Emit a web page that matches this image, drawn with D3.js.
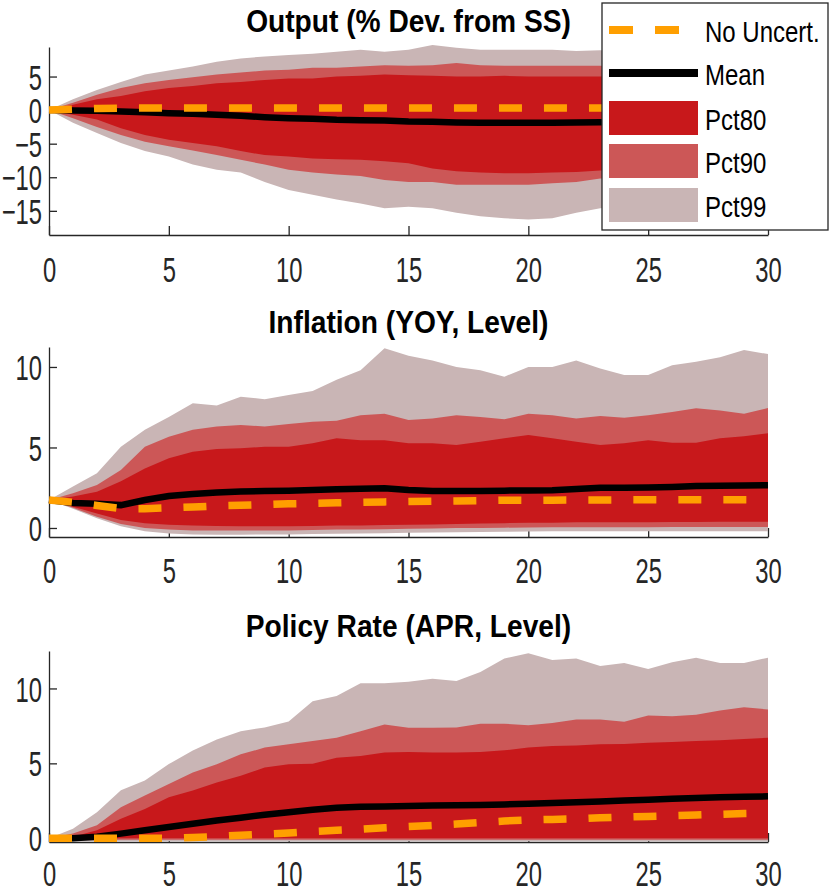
<!DOCTYPE html>
<html>
<head>
<meta charset="utf-8">
<script src="https://cdn.jsdelivr.net/npm/d3@7"></script>
<style>
  body { margin: 0; background: #fff; }
  svg { display: block; }
</style>
</head>
<body>
<svg id="fig" width="830" height="891"></svg>
<script>
// horizons 0..30 and axis ticks
var horizon = d3.range(0, 31);
var xTicks = [0, 5, 10, 15, 20, 25, 30];
var outputTicks = [-15, -10, -5, 0, 5];
var inflationTicks = [0, 5, 10];
var policyTicks = [0, 5, 10];

// Output (% Dev. from SS)
var outputMean  = [0,-0.05,-0.1,-0.2,-0.3,-0.45,-0.55,-0.7,-0.85,-1.05,-1.2,-1.3,-1.45,-1.5,-1.55,-1.7,-1.75,-1.85,-1.9,-1.9,-1.9,-1.9,-1.85,-1.8,-1.8,-1.75,-1.7,-1.7,-1.65,-1.6,-1.6];
var outputNoUnc = [0,0.15,0.25,0.3,0.3,0.3,0.3,0.3,0.3,0.3,0.3,0.3,0.3,0.3,0.3,0.3,0.3,0.3,0.3,0.3,0.3,0.3,0.3,0.3,0.3,0.3,0.3,0.3,0.3,0.3,0.3];
var outputP80Lo = [0,-0.7,-1.4,-2.7,-3.7,-4.4,-4.9,-5.4,-6.1,-6.7,-6.9,-7.2,-7.3,-7.4,-7.6,-7.9,-8.7,-9.1,-9.3,-9.4,-9.4,-9.3,-9.2,-9.0,-9.1,-9.2,-9.2,-9.1,-9.0,-9.1,-9.2];
var outputP80Hi = [0,0.8,1.6,2.1,2.8,3.3,3.6,4.0,4.2,4.5,4.7,4.7,5.0,5.1,5.3,5.2,5.1,5.0,5.0,5.1,5.0,5.0,5.0,5.0,5.1,5.0,5.1,5.0,5.1,5.0,5.1];
var outputP90Lo = [0,-1.2,-2.5,-3.7,-4.7,-5.4,-6.0,-6.7,-7.4,-8.1,-8.9,-9.3,-9.6,-9.8,-10.4,-10.7,-10.7,-11.1,-11.1,-11.1,-11.1,-10.9,-10.7,-10.2,-10.3,-10.5,-10.6,-10.6,-10.5,-10.6,-10.7];
var outputP90Hi = [0,1.1,2.3,3.3,4.0,4.5,4.9,5.3,5.6,5.9,6.0,6.3,6.3,6.5,6.7,6.6,6.7,7.0,6.7,6.6,6.6,6.6,6.6,6.6,6.5,6.6,6.7,6.6,6.5,6.6,6.6];
var outputP99Lo = [0,-1.9,-3.4,-4.9,-6.1,-6.9,-8.1,-8.9,-9.3,-10.7,-11.9,-12.6,-13.3,-13.9,-14.6,-14.4,-14.6,-15.3,-15.8,-16.1,-16.3,-16.1,-15.3,-14.6,-14.5,-14.8,-15.0,-15.2,-15.0,-15.1,-15.2];
var outputP99Hi = [0,1.6,3.0,4.2,5.3,5.9,6.5,7.2,7.7,8.0,8.2,8.4,8.7,9.0,8.7,9.0,9.7,9.3,9.0,9.0,9.0,9.0,8.8,8.9,8.8,8.9,9.0,8.9,8.8,8.9,8.8];

// Inflation (YOY, Level)
var inflationMean  = [1.74,1.55,1.5,1.42,1.74,1.99,2.11,2.2,2.26,2.3,2.32,2.36,2.4,2.43,2.46,2.36,2.3,2.3,2.3,2.32,2.33,2.34,2.42,2.5,2.5,2.52,2.55,2.6,2.62,2.64,2.65];
var inflationNoUnc = [1.74,1.6,1.4,1.2,1.2,1.25,1.3,1.37,1.41,1.45,1.5,1.53,1.56,1.59,1.62,1.64,1.66,1.68,1.7,1.72,1.72,1.73,1.74,1.74,1.75,1.75,1.75,1.76,1.76,1.76,1.76];
var inflationP80Lo = [1.74,1.32,0.9,0.5,0.3,0.2,0.15,0.12,0.1,0.1,0.1,0.12,0.15,0.15,0.18,0.2,0.22,0.25,0.28,0.3,0.32,0.33,0.35,0.35,0.36,0.36,0.37,0.37,0.38,0.38,0.38];
var inflationP80Hi = [1.74,1.95,2.25,2.9,3.7,4.33,4.74,4.9,4.95,5.05,5.05,5.26,5.57,5.45,5.45,5.26,5.26,5.15,5.36,5.57,5.78,5.57,5.36,5.15,5.26,5.45,5.3,5.3,5.57,5.7,5.88];
var inflationP90Lo = [1.74,1.25,0.7,0.25,0.0,-0.1,-0.15,-0.15,-0.15,-0.15,-0.15,-0.12,-0.1,-0.1,-0.08,-0.05,-0.03,0.0,0.0,0.02,0.03,0.05,0.05,0.05,0.05,0.05,0.06,0.06,0.06,0.06,0.06];
var inflationP90Hi = [1.74,2.15,2.67,3.6,5.05,5.67,6.1,6.3,6.4,6.3,6.46,6.6,6.66,7.0,7.1,6.7,6.8,7.0,6.9,6.75,7.1,7.0,6.8,6.95,6.85,7.0,7.2,7.43,7.3,7.1,7.45];
var inflationP99Lo = [1.74,1.2,0.6,0.1,-0.2,-0.35,-0.4,-0.42,-0.42,-0.4,-0.4,-0.38,-0.36,-0.35,-0.33,-0.3,-0.28,-0.26,-0.25,-0.24,-0.22,-0.2,-0.2,-0.2,-0.2,-0.2,-0.2,-0.2,-0.2,-0.2,-0.2];
var inflationP99Hi = [1.74,2.57,3.4,5.05,6.1,6.9,7.75,7.6,8.15,8.0,8.26,8.5,9.2,9.8,11.16,10.7,10.4,10.0,9.8,9.4,10.0,10.0,10.4,9.9,9.5,9.5,10.1,10.33,10.6,11.06,10.8];

// Policy Rate (APR, Level)
var policyMean  = [0,0,0.1,0.31,0.53,0.75,0.97,1.19,1.37,1.57,1.74,1.9,2.03,2.1,2.12,2.15,2.18,2.2,2.22,2.26,2.3,2.35,2.41,2.46,2.52,2.57,2.63,2.68,2.74,2.77,2.8];
var policyNoUnc = [0,0,0,0,0,0,0.05,0.12,0.2,0.28,0.35,0.45,0.53,0.6,0.7,0.78,0.86,0.95,1.05,1.15,1.22,1.26,1.3,1.37,1.42,1.46,1.5,1.55,1.6,1.65,1.68];
var policyP80Lo = [0,0,0,0,0,0,0,0,0,0,0,0,0,0,0,0,0,0,0,0,0,0,0,0,0,0,0,0,0,0,0];
var policyP80Hi = [0,0.1,0.53,1.3,1.96,2.74,3.18,3.73,4.17,4.72,4.94,4.97,5.38,5.49,5.72,5.76,5.72,5.72,5.76,5.87,6.05,6.16,6.2,6.27,6.3,6.38,6.42,6.49,6.55,6.62,6.71];
var policyP90Lo = [0,-0.1,-0.1,-0.1,-0.1,-0.1,-0.1,-0.1,-0.1,-0.1,-0.1,-0.1,-0.1,-0.1,-0.1,-0.1,-0.1,-0.1,-0.1,-0.1,-0.1,-0.1,-0.1,-0.1,-0.1,-0.1,-0.1,-0.1,-0.1,-0.1,-0.1];
var policyP90Hi = [0,0.31,0.86,2.07,2.85,3.62,4.39,4.94,5.6,6.05,6.27,6.49,6.71,7.15,7.6,7.37,7.37,7.4,7.64,7.64,7.55,7.7,7.92,7.92,7.77,8.2,8.15,8.24,8.52,8.74,8.6];
var policyP99Lo = [0,-0.2,-0.2,-0.2,-0.2,-0.2,-0.2,-0.2,-0.2,-0.2,-0.2,-0.2,-0.2,-0.2,-0.2,-0.2,-0.2,-0.2,-0.2,-0.2,-0.2,-0.2,-0.2,-0.2,-0.2,-0.2,-0.2,-0.2,-0.2,-0.2,-0.2];
var policyP99Hi = [0,0.64,1.74,3.2,3.85,4.95,5.85,6.6,7.15,7.4,7.8,9.15,9.5,10.35,10.35,10.45,10.65,10.5,11.1,12.0,12.35,11.9,12.0,11.5,11.7,11.3,11.75,12.05,11.7,11.7,12.05];

var legendNames = ["No Uncert.", "Mean", "Pct80", "Pct90", "Pct99"];

// colours
var cP80 = "#c8181b", cP90 = "#cc5757", cP99 = "#c9b5b5";
var cOrange = "#ff9f00", cAxis = "#262626";
var fontFam = "'Liberation Sans', Arial, Helvetica, sans-serif";

var svg = d3.select("#fig");
svg.append("rect").attr("width", 830).attr("height", 891).attr("fill", "#fff");

var xRange = [49, 768];
var x = d3.scaleLinear().domain([0, 30]).range(xRange);

var panels = [
    {title: "Output (% Dev. from SS)", top: 47, bottom: 235, titleY: 32, labelDy: 47, domain: [-18.6, 9.4], ticks: outputTicks,
     mean: outputMean, noUnc: outputNoUnc,
     bands: [[outputP99Lo, outputP99Hi, cP99], [outputP90Lo, outputP90Hi, cP90], [outputP80Lo, outputP80Hi, cP80]]},
    {title: "Inflation (YOY, Level)", top: 347, bottom: 537, titleY: 333, labelDy: 46, domain: [-0.56, 11.24], ticks: inflationTicks,
     mean: inflationMean, noUnc: inflationNoUnc,
     bands: [[inflationP99Lo, inflationP99Hi, cP99], [inflationP90Lo, inflationP90Hi, cP90], [inflationP80Lo, inflationP80Hi, cP80]]},
    {title: "Policy Rate (APR, Level)", top: 651, bottom: 842, titleY: 637, labelDy: 44, domain: [-0.25, 12.5], ticks: policyTicks,
     mean: policyMean, noUnc: policyNoUnc,
     bands: [[policyP99Lo, policyP99Hi, cP99], [policyP90Lo, policyP90Hi, cP90], [policyP80Lo, policyP80Hi, cP80]]}
];

function styleAxis(g){
    g.attr("font-family", fontFam)
     .attr("font-size", 35)
     .style("color", cAxis);
    g.selectAll("path, line").attr("stroke-width", 1.3);
}

panels.forEach(function(p){
    var y = d3.scaleLinear().domain(p.domain).range([p.bottom, p.top]);
    var g = svg.append("g");

    // axes first (fills sit on top of them, like matlab's default layer)
    var ya = g.append("g")
        .attr("transform", "translate(" + xRange[0] + ",0)")
        .call(d3.axisLeft(y).tickValues(p.ticks).tickSizeInner(-8).tickSizeOuter(0));
    styleAxis(ya);
    ya.selectAll("text")
        .attr("x", 0).attr("dy", "0.36em")
        .attr("transform", "translate(-7,0) scale(0.68,1)");

    var xa = g.append("g")
        .attr("transform", "translate(0," + p.bottom + ")")
        .call(d3.axisBottom(x).tickValues(xTicks).tickSizeInner(-9).tickSizeOuter(0));
    styleAxis(xa);
    xa.selectAll("text")
        .attr("y", 0).attr("dy", 0)
        .attr("transform", "translate(0," + p.labelDy + ") scale(0.68,1)");

    // percentile bands
    p.bands.forEach(function(b){
        var area = d3.area()
            .x(function(d, i){ return x(horizon[i]); })
            .y0(function(d, i){ return y(b[0][i]); })
            .y1(function(d, i){ return y(b[1][i]); });
        g.append("path")
            .datum(horizon)
            .attr("d", area)
            .attr("fill", b[2]);
    });

    var line = function(vals){
        return d3.line()
            .x(function(d, i){ return x(horizon[i]); })
            .y(function(d, i){ return y(vals[i]); })(horizon);
    };

    g.append("path")
        .attr("d", line(p.mean))
        .attr("fill", "none")
        .attr("stroke", "#000")
        .attr("stroke-width", 6.5);

    g.append("path")
        .attr("d", line(p.noUnc))
        .attr("fill", "none")
        .attr("stroke", cOrange)
        .attr("stroke-width", 7.5)
        .attr("stroke-dasharray", "23,22");

    g.append("text")
        .attr("transform", "translate(" + ((xRange[0] + xRange[1]) / 2) + "," + p.titleY + ") scale(0.88,1)")
        .attr("text-anchor", "middle")
        .attr("font-family", fontFam)
        .attr("font-weight", "bold")
        .attr("font-size", 32)
        .attr("fill", "#000")
        .text(p.title);
});

// Legend
var leg = svg.append("g");
leg.append("rect")
    .attr("x", 602).attr("y", 3)
    .attr("width", 226).attr("height", 227)
    .attr("fill", "#fff")
    .attr("stroke", cAxis)
    .attr("stroke-width", 1.3);

var legY = [30, 73, 118, 161, 205];
leg.append("line")
    .attr("x1", 609).attr("x2", 698).attr("y1", legY[0]).attr("y2", legY[0])
    .attr("stroke", cOrange).attr("stroke-width", 8).attr("stroke-dasharray", "24,22");
leg.append("line")
    .attr("x1", 609).attr("x2", 698).attr("y1", legY[1]).attr("y2", legY[1])
    .attr("stroke", "#000").attr("stroke-width", 8);
[cP80, cP90, cP99].forEach(function(c, i){
    leg.append("rect")
        .attr("x", 609).attr("y", legY[i + 2] - 17)
        .attr("width", 89).attr("height", 34)
        .attr("fill", c);
});
leg.selectAll("text.lt")
    .data(legendNames)
    .enter()
    .append("text")
    .attr("class", "lt")
    .attr("transform", function(d, i){ return "translate(705," + (legY[i] + 12) + ") scale(0.8,1)"; })
    .attr("font-family", fontFam)
    .attr("font-size", 30)
    .attr("fill", "#000")
    .text(function(d){ return d; });
</script>
</body>
</html>
